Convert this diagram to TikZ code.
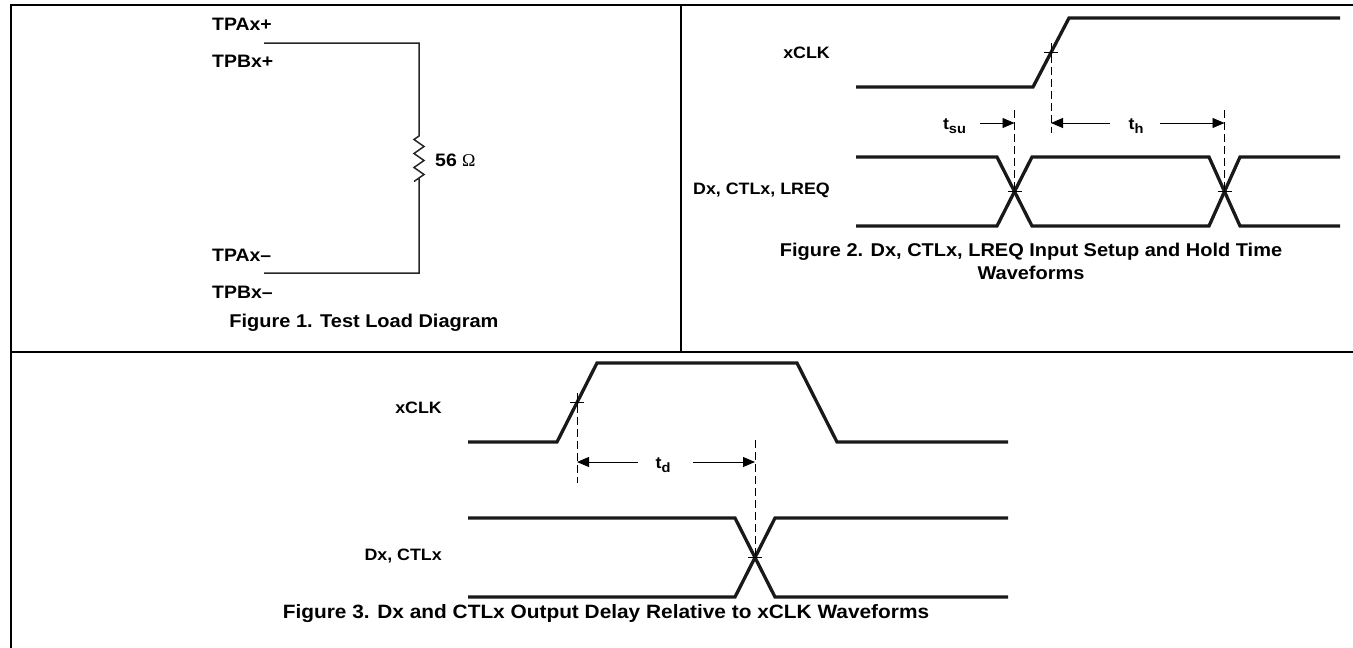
\documentclass[tikz,border=0pt]{standalone}
\usepackage{fontspec}
\setmainfont{Liberation Sans}[FakeStretch=1.08]
\newfontfamily\symf{Liberation Serif}
\usetikzlibrary{arrows.meta}
\newcommand{\sbs}[1]{\raisebox{-0.4ex}{\fontsize{13.5}{14}\selectfont #1}}
\begin{document}
\begin{tikzpicture}[x=1pt,y=-1pt,
  frame/.style={line width=2pt},
  wire/.style={line width=1.5pt, black!85},
  wave/.style={line width=3.3pt, black!90, line join=miter},
  guide/.style={line width=0.9pt, dash pattern=on 8pt off 4pt},
  tickm/.style={line width=0.8pt},
  dim/.style={line width=0.9pt, -{Triangle[length=12pt,width=10pt]}},
  lbl/.style={font=\bfseries\fontsize{18}{21}\selectfont, inner sep=0pt},
  wlbl/.style={font=\bfseries\fontsize{16.5}{19}\selectfont, inner sep=0pt},
  captxt/.style={font=\bfseries\fontsize{18.5}{23}\selectfont, inner sep=0pt, align=center}]
\useasboundingbox (0,0) rectangle (1353,648);
% frame
\draw[frame] (10.5,648) -- (10.5,5) -- (1353,5);
\draw[frame] (10,352) -- (1353,352);
\draw[frame] (681,5) -- (681,352);

% ---------- Figure 1 ----------
\node[lbl,anchor=west] (tpap) at (212,24) {TPAx+};
\node[lbl,anchor=west] (tpbp) at (212,61) {TPBx+};
\node[lbl,anchor=west] (tpam) at (212,255) {TPAx--};
\node[lbl,anchor=west] (tpbm) at (212,292) {TPBx--};
\coordinate (w1) at (264,43);
\coordinate (c1) at (419,43);
\coordinate (r1) at (419,136);
\coordinate (r2) at (419,178);
\coordinate (c2) at (419,273);
\coordinate (w2) at (264,273);
\draw[wire] (w1) -- (c1) -- (r1) -- ++(-5,3.5) -- ++(10,7) -- ++(-10,7) -- ++(10,7)
  -- ++(-10,7) -- ++(10,7) -- ++(-10,7) -- (r2) -- (c2) -- (w2);
\node[lbl,anchor=west] (res) at (435,160) {56 {\symf\mdseries Ω}};
\node[captxt] (cap1) at (364,323) {Figure 1. Test Load Diagram};

% ---------- Figure 2 ----------
\node[wlbl,anchor=east] (clk2) at (830,53) {xCLK};
\node[wlbl,anchor=east] (dat2) at (830,190) {Dx, CTLx, LREQ};
\draw[wave] (856,87) -- (1033,87) -- (1069,18) -- (1340,18);
\draw[wave] (856,157) -- (997,157) -- (1032,226) -- (1209,226) -- (1240,157) -- (1340,157);
\draw[wave] (856,226) -- (997,226) -- (1032,157) -- (1209,157) -- (1240,226) -- (1340,226);
% marks
\coordinate (m2a) at (1051,52.5);
\coordinate (m2b) at (1014.5,191.5);
\coordinate (m2c) at (1224.5,191.5);
\draw[tickm] ([xshift=-7pt]m2a) -- ([xshift=7pt]m2a);
\draw[tickm] ([yshift=-8pt]m2a) -- ([yshift=8pt]m2a);
\draw[tickm] ([xshift=-7pt]m2b) -- ([xshift=7pt]m2b);
\draw[tickm] ([xshift=-7pt]m2c) -- ([xshift=7pt]m2c);
\coordinate (g2a) at (1051,133);
\coordinate (g2b) at (1014.5,110);
\coordinate (g2c) at (1224.5,110);
\draw[guide] ([yshift=10pt]m2a) -- (g2a);
\draw[guide] (g2b) -- (m2b);
\draw[guide] (g2c) -- (m2c);
\node[wlbl] (tsu) at (954.5,126) {t\sbs{su}};
\node[wlbl] (th) at (1136,126) {t\sbs{h}};
\coordinate (a1) at (980,123);  \coordinate (a1e) at (1014.5,123);
\coordinate (a2) at (1110,123); \coordinate (a2e) at (1051,123);
\coordinate (a3) at (1160,123); \coordinate (a3e) at (1224.5,123);
\draw[dim] (a1) -- (a1e);
\draw[dim] (a2) -- (a2e);
\draw[dim] (a3) -- (a3e);
\node[captxt] (cap2) at (1031,261) {Figure 2. Dx, CTLx, LREQ Input Setup and Hold Time\\Waveforms};

% ---------- Figure 3 ----------
\node[wlbl,anchor=east] (clk3) at (442,408) {xCLK};
\node[wlbl,anchor=east] (dat3) at (442,556) {Dx, CTLx};
\draw[wave] (468,442) -- (557,442) -- (597,363) -- (797,363) -- (837,442) -- (1008,442);
\draw[wave] (468,518) -- (735,518) -- (775,597) -- (1008,597);
\draw[wave] (468,597) -- (735,597) -- (775,518) -- (1008,518);
\coordinate (m3a) at (577,402.5);
\coordinate (m3b) at (755,557.5);
\draw[tickm] ([xshift=-7pt]m3a) -- ([xshift=7pt]m3a);
\draw[tickm] ([yshift=-8pt]m3a) -- ([yshift=8pt]m3a);
\draw[tickm] ([xshift=-7pt]m3b) -- ([xshift=7pt]m3b);
\coordinate (g3a) at (577,483);
\coordinate (g3b) at (755,440);
\draw[guide] ([yshift=10pt]m3a) -- (g3a);
\draw[guide] (g3b) -- (m3b);
\node[wlbl] (td) at (663,465) {t\sbs{d}};
\coordinate (b1) at (638,462); \coordinate (b1e) at (577,462);
\coordinate (b2) at (693,462); \coordinate (b2e) at (755,462);
\draw[dim] (b1) -- (b1e);
\draw[dim] (b2) -- (b2e);
\node[captxt,font=\bfseries\fontsize{19.3}{23}\selectfont] (cap3) at (606,614) {Figure 3. Dx and CTLx Output Delay Relative to xCLK Waveforms};
\end{tikzpicture}
\end{document}
